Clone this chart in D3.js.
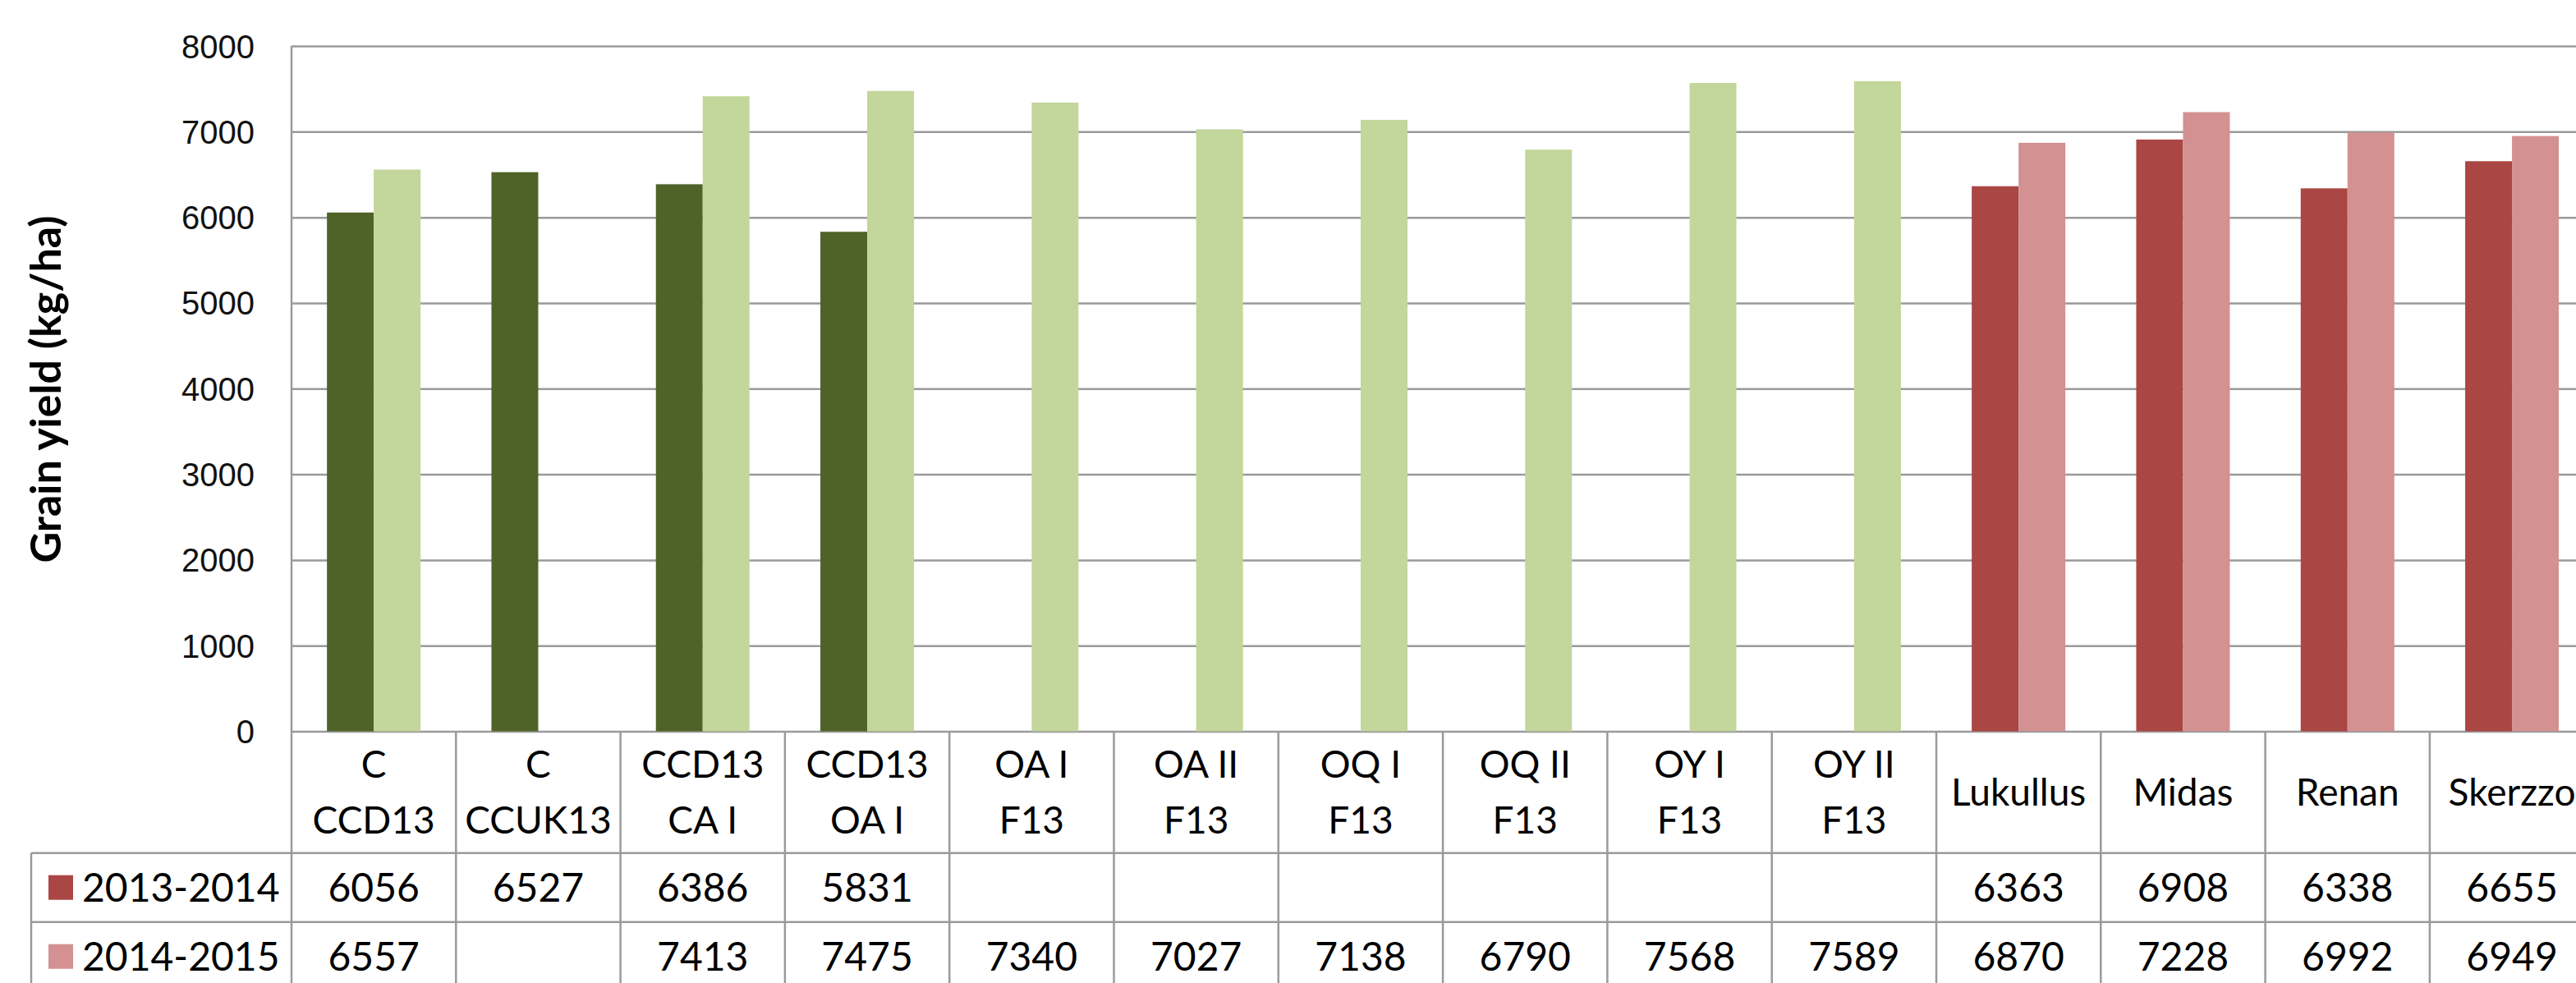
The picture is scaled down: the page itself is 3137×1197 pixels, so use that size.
<!DOCTYPE html>
<html lang="en">

<head>
	<meta charset="utf-8">
	<title>Grain yield</title>
	<style>
		body {
			margin: 0;
			background: #fff;
		}

		svg {
			display: block;
			font-family: Lato, "Open Sans", sans-serif;
		}

		.grid line {
			stroke: #9a9a9a;
			stroke-width: 2.5;
		}

		.grid text {
			font-size: 40px;
			fill: #111;
		}

		.table-line {
			stroke: #9a9a9a;
			stroke-width: 2.5;
		}

		.cat-label,
		.cell-value,
		.legend-label {
			fill: #000;
		}
	</style>
</head>

<body>
	<svg width="3137" height="1197"></svg>

	<script src="https://d3js.org/d3.v7.min.js"></script>
	<script>
		// categories (each one is a list of text lines in the header cell)
		var categories = ["C CCD13", "C CCUK13", "CCD13 CA I", "CCD13 OA I", "OA I F13", "OA II F13",
			"OQ I F13", "OQ II F13", "OY I F13", "OY II F13", "Lukullus", "Midas", "Renan", "Skerzzo"];
		var categoryLines = [["C", "CCD13"], ["C", "CCUK13"], ["CCD13", "CA I"], ["CCD13", "OA I"],
			["OA I", "F13"], ["OA II", "F13"], ["OQ I", "F13"], ["OQ II", "F13"], ["OY I", "F13"],
			["OY II", "F13"], ["Lukullus"], ["Midas"], ["Renan"], ["Skerzzo"]];
		// which colour group each category belongs to
		var categoryGroup = ["green", "green", "green", "green", "green", "green", "green", "green",
			"green", "green", "red", "red", "red", "red"];

		var seriesNames = ["2013-2014", "2014-2015"];
		var yield2013 = [6056, 6527, 6386, 5831, null, null, null, null, null, null, 6363, 6908, 6338, 6655];
		var yield2014 = [6557, null, 7413, 7475, 7340, 7027, 7138, 6790, 7568, 7589, 6870, 7228, 6992, 6949];

		var yTicks = [0, 1000, 2000, 3000, 4000, 5000, 6000, 7000, 8000];
		var yTitle = "Grain yield (kg/ha)";

		var colors = {
			green: ["#4f6228", "#c3d69b"],
			red: ["#aa4643", "#d39191"]
		};

		var seriesValues = [yield2013, yield2014];

		var svg = d3.select("svg");

		var plot = {
			left: 355,
			colWidth: 200.3,
			top: 56,
			bottom: 890.5,
			headerBottom: 1038.7,
			row1Bottom: 1122.7,
			row2Bottom: 1206.7,
			legendLeft: 38
		};
		var plotRight = plot.left + plot.colWidth * categories.length;

		var x = d3.scaleBand()
			.domain(categories)
			.range([plot.left, plotRight])
			.paddingInner(0)
			.paddingOuter(0);

		var xSeries = d3.scaleBand()
			.domain(seriesNames)
			.range([0, x.bandwidth()])
			.paddingInner(0)
			.paddingOuter(0.757);

		var y = d3.scaleLinear()
			.domain([0, 8000])
			.range([plot.bottom, plot.top]);

		// gridlines + tick labels
		var yAxis = d3.axisLeft(y)
			.tickValues(yTicks)
			.tickSize(-(plotRight - plot.left))
			.tickPadding(45)
			.tickFormat(d3.format("d"));

		svg.append("g")
			.attr("class", "grid")
			.attr("transform", "translate(" + plot.left + ",0)")
			.call(yAxis)
			.call(function(g) {
				g.select(".domain").remove();
			})
			.selectAll("text")
			.attr("dy", "0.35em");

		// bars
		var barData = [];
		categories.forEach(function(c, i) {
			seriesNames.forEach(function(s, j) {
				var v = seriesValues[j][i];
				if (v != null) {
					barData.push({ cat: c, series: s, value: v, color: colors[categoryGroup[i]][j] });
				}
			});
		});

		svg.append("g")
			.attr("class", "bars")
			.selectAll("rect")
			.data(barData)
			.enter().append("rect")
			.attr("x", function(d) { return x(d.cat) + xSeries(d.series); })
			.attr("y", function(d) { return y(d.value); })
			.attr("width", xSeries.bandwidth())
			.attr("height", function(d) { return y(0) - y(d.value); })
			.attr("fill", function(d) { return d.color; });

		// axis line on the left
		svg.append("line")
			.attr("class", "table-line")
			.attr("x1", plot.left).attr("x2", plot.left)
			.attr("y1", plot.top).attr("y2", plot.row2Bottom);

		// data table lines
		var table = svg.append("g").attr("class", "data-table");

		table.selectAll(".col-line")
			.data(categories)
			.enter().append("line")
			.attr("class", "table-line col-line")
			.attr("x1", function(d) { return x(d) + x.bandwidth(); })
			.attr("x2", function(d) { return x(d) + x.bandwidth(); })
			.attr("y1", plot.bottom)
			.attr("y2", plot.row2Bottom);

		[plot.headerBottom, plot.row1Bottom, plot.row2Bottom].forEach(function(yy) {
			table.append("line")
				.attr("class", "table-line")
				.attr("x1", plot.legendLeft).attr("x2", plotRight)
				.attr("y1", yy).attr("y2", yy);
		});

		table.append("line")
			.attr("class", "table-line")
			.attr("x1", plot.legendLeft).attr("x2", plot.legendLeft)
			.attr("y1", plot.headerBottom).attr("y2", plot.row2Bottom);

		// category headers
		var headerMid = (plot.bottom + plot.headerBottom) / 2;
		var lineGap = 68;

		var catText = table.selectAll(".cat-label")
			.data(categories)
			.enter().append("text")
			.attr("class", "cat-label")
			.attr("text-anchor", "middle")
			.style("font-size", "46px")
			.attr("x", function(d) { return x(d) + x.bandwidth() / 2; });

		catText.each(function(d, i) {
			var lines = categoryLines[i];
			var t = d3.select(this);
			lines.forEach(function(l, k) {
				var off = (k - (lines.length - 1) / 2) * lineGap;
				t.append("tspan")
					.attr("x", x(d) + x.bandwidth() / 2)
					.attr("y", headerMid + off)
					.attr("dy", "0.36em")
					.text(l);
			});
		});

		// values rows
		var rowMids = [(plot.headerBottom + plot.row1Bottom) / 2, (plot.row1Bottom + plot.row2Bottom) / 2];

		seriesNames.forEach(function(s, j) {
			table.selectAll(".cell-" + j)
				.data(seriesValues[j])
				.enter().append("text")
				.attr("class", "cell-value cell-" + j)
				.attr("text-anchor", "middle")
				.style("font-size", "48px")
				.attr("x", function(d, i) { return x(categories[i]) + x.bandwidth() / 2; })
				.attr("y", rowMids[j])
				.attr("dy", "0.36em")
				.text(function(d) { return d == null ? "" : d; });

			// legend key
			table.append("rect")
				.attr("x", 59)
				.attr("y", rowMids[j] - 15)
				.attr("width", 30)
				.attr("height", 30)
				.attr("fill", colors.red[j]);

			table.append("text")
				.attr("class", "legend-label")
				.attr("x", 100)
				.attr("y", rowMids[j])
				.attr("dy", "0.36em")
				.style("font-size", "48px")
				.text(s);
		});

		// y axis title
		svg.append("text")
			.attr("transform", "translate(74," + 474 + ") rotate(-90)")
			.attr("text-anchor", "middle")
			.style("font-size", "52px")
			.style("font-weight", "bold")
			.text(yTitle);
	</script>

</body>

</html>
